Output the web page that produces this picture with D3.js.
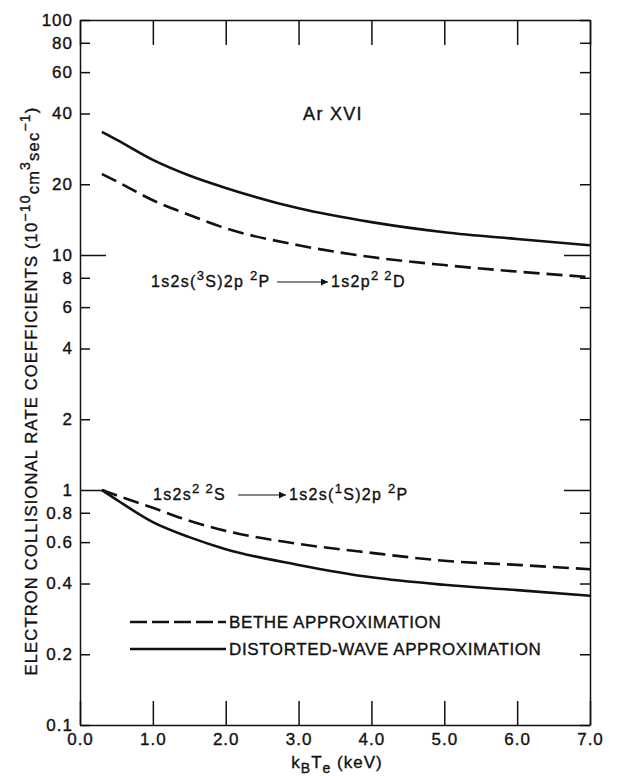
<!DOCTYPE html>
<html>
<head>
<meta charset="utf-8">
<script src="https://cdn.jsdelivr.net/npm/d3@7"></script>
<style>
  body { margin: 0; background: #fff; }
  svg { font-family: "Liberation Sans", Arial, sans-serif; }
  svg text { fill: #111; stroke: #111; stroke-width: 0.35; }
  .axis text { font-size: 17px; letter-spacing: 1px; }
  .axis path, .axis line { stroke: #111; stroke-width: 1.5; }
</style>
</head>
<body>
<div id="chart"></div>
<script>
// kT (keV) sample points
var TEMPS = [0.3, 0.5, 1.0, 1.5, 2.0, 3.0, 4.0, 5.0, 6.0, 7.0];
// 1s2s(3S)2p 2P -> 1s2p2 2D
var UPPER_DW    = [33.4, 31.0, 25.4, 21.8, 19.3, 15.8, 13.8, 12.5, 11.7, 11.0];
var UPPER_BETHE = [22.1, 20.6, 17.1, 14.8, 13.0, 11.0, 9.8, 9.06, 8.5, 8.05];
// 1s2s2 2S -> 1s2s(1S)2p 2P
var LOWER_DW    = [1.0, 0.91, 0.73, 0.63, 0.56, 0.48, 0.425, 0.395, 0.375, 0.355];
var LOWER_BETHE = [1.0, 0.95, 0.84, 0.74, 0.67, 0.59, 0.54, 0.50, 0.48, 0.46];

var Y_TICKS = [100, 80, 60, 40, 20, 10, 8, 6, 4, 2, 1, 0.8, 0.6, 0.4, 0.2, 0.1];
var Y_MAJOR = [10, 1];
var X_TICKS = [0, 1, 2, 3, 4, 5, 6, 7];

var width = 618, height = 776;
var margin = {top: 20, right: 28, bottom: 51, left: 80};

var svg = d3.select("#chart").append("svg")
  .attr("width", width)
  .attr("height", height);

var x = d3.scaleLinear().domain([0, 7]).range([margin.left, width - margin.right]);
var y = d3.scaleLog().domain([0.1, 100]).range([height - margin.bottom, margin.top]);

// axes
var left = svg.append("g").attr("class", "axis")
  .attr("transform", "translate(" + margin.left + ",0)")
  .call(d3.axisLeft(y).tickValues(Y_TICKS).tickFormat(function(d){ return String(d); })
    .tickSizeInner(-10).tickSizeOuter(0).tickPadding(7));
left.selectAll(".tick line").attr("x2", function(d){ return Y_MAJOR.indexOf(d) >= 0 ? 26 : 10; });

var right = svg.append("g").attr("class", "axis")
  .attr("transform", "translate(" + (width - margin.right) + ",0)")
  .call(d3.axisRight(y).tickValues(Y_TICKS).tickFormat("").tickSizeInner(-10).tickSizeOuter(0));
right.selectAll(".tick line").attr("x2", function(d){ return Y_MAJOR.indexOf(d) >= 0 ? -26 : -10; });

svg.append("g").attr("class", "axis")
  .attr("transform", "translate(0," + (height - margin.bottom) + ")")
  .call(d3.axisBottom(x).tickValues(X_TICKS).tickFormat(d3.format(".1f"))
    .tickSizeInner(-24).tickSizeOuter(0).tickPadding(8));

svg.append("g").attr("class", "axis")
  .attr("transform", "translate(0," + margin.top + ")")
  .call(d3.axisTop(x).tickValues(X_TICKS).tickFormat("").tickSizeInner(-25).tickSizeOuter(0));

// curves
var line = d3.line()
  .x(function(d){ return x(d[0]); })
  .y(function(d){ return y(d[1]); })
  .curve(d3.curveMonotoneX);

function drawCurve(vals, dashed) {
  svg.append("path")
    .datum(d3.zip(TEMPS, vals))
    .attr("d", line)
    .attr("fill", "none")
    .attr("stroke", "#111")
    .attr("stroke-width", 2.6)
    .attr("stroke-dasharray", dashed ? "16,7" : null);
}
drawCurve(UPPER_DW, false);
drawCurve(UPPER_BETHE, true);
drawCurve(LOWER_DW, false);
drawCurve(LOWER_BETHE, true);

// arrow marker
svg.append("defs").append("marker")
  .attr("id", "arrow")
  .attr("viewBox", "0 0 10 10")
  .attr("refX", 10).attr("refY", 5)
  .attr("markerWidth", 12).attr("markerHeight", 7)
  .attr("markerUnits", "userSpaceOnUse")
  .attr("orient", "auto")
  .append("path").attr("d", "M0,0L10,5L0,10z").attr("fill", "#111");

var txt = svg.append("g").style("font-size", "16px").style("letter-spacing", "1.3px");

txt.append("text").attr("x", 333).attr("y", 120)
  .attr("text-anchor", "middle").style("font-size", "18px").text("Ar XVI");

// text made of [string, shift] pieces; shift -1 = superscript, +1 = subscript
function rich(sel, px, py, parts, size, small) {
  var t = sel.append("text").attr("x", px).attr("y", py);
  var cur = 0;
  parts.forEach(function(p) {
    var off = p[1] * (p[1] < 0 ? 0.45 : 0.3) * size;
    t.append("tspan").attr("dy", off - cur)
      .style("font-size", (p[1] !== 0 && Math.abs(p[1]) >= 1 ? small : size) + "px")
      .text(p[0]);
    cur = off;
  });
  return t;
}
function arrow(x1, x2, ay) {
  svg.append("line").attr("x1", x1).attr("x2", x2).attr("y1", ay).attr("y2", ay)
    .attr("stroke", "#111").attr("stroke-width", 1.2).attr("marker-end", "url(#arrow)");
}

// upper transition label
rich(txt, 151, 287, [["1s2s(", 0], ["3", -1], ["S)2p ", 0], ["2", -1], ["P", 0]], 16, 13);
arrow(277, 328, 282);
rich(txt, 331, 287, [["1s2p", 0], ["2 2", -1], ["D", 0]], 16, 13);

// lower transition label
rich(txt, 153, 500, [["1s2s", 0], ["2 2", -1], ["S", 0]], 16, 13);
arrow(238, 286, 495);
rich(txt, 289, 500, [["1s2s(", 0], ["1", -1], ["S)2p ", 0], ["2", -1], ["P", 0]], 16, 13);

// legend
var LEGEND_LABELS = ["BETHE APPROXIMATION", "DISTORTED-WAVE APPROXIMATION"];
LEGEND_LABELS.forEach(function(lab, i) {
  var ly = 622 + i * 27;
  svg.append("line").attr("x1", 130).attr("x2", 226).attr("y1", ly).attr("y2", ly)
    .attr("stroke", "#111").attr("stroke-width", 2.6)
    .attr("stroke-dasharray", i === 0 ? "17,5" : null);
  txt.append("text").attr("x", 229).attr("y", ly + 6).style("font-size", "17px")
    .style("letter-spacing", "0.6px").text(lab);
});

// axis titles
var xt = rich(txt, 337, 768, [["k", 0], ["B", 1], ["T", 0], ["e", 1], [" (keV)", 0]], 17, 14);
xt.attr("text-anchor", "middle").style("letter-spacing", "1px");

var yt = rich(txt, 0, 0, [["ELECTRON COLLISIONAL RATE COEFFICIENTS (10", 0], ["\u221210", -1],
    ["cm", 0.5], ["3", -1], ["sec", 0.5], ["\u22121", -1], [")", 0]], 16.5, 14);
yt.attr("transform", "translate(37,391) rotate(-90)").attr("text-anchor", "middle")
  .style("letter-spacing", "1.2px");
</script>
</body>
</html>
